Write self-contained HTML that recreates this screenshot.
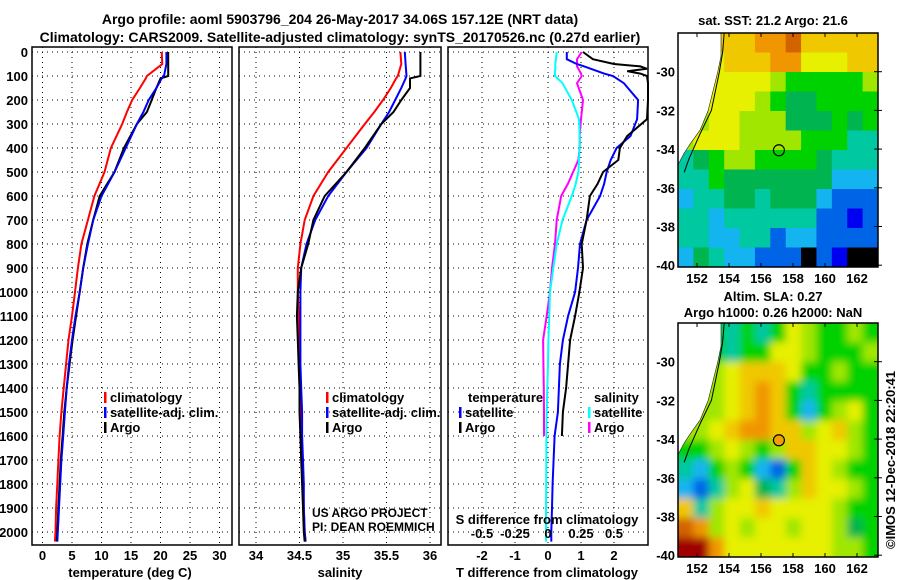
<!DOCTYPE html>
<html><head><meta charset="utf-8"><style>
html,body{margin:0;padding:0;background:#fff;}
#wrap{position:relative;width:900px;height:580px;}
svg{display:block;font-family:"Liberation Sans",sans-serif;}
#ov{position:absolute;left:0;top:0;}
.b{font-weight:bold;font-size:13px;}
</style></head><body>
<div id="wrap">
<svg id="c" width="900" height="580" viewBox="0 0 900 580">
<defs>
<filter id="blurA" x="-10%" y="-10%" width="120%" height="120%"><feGaussianBlur stdDeviation="4"/></filter>
<clipPath id="clipTop"><rect x="678" y="33" width="200" height="234"/></clipPath>
<clipPath id="clipBot"><rect x="678" y="323" width="200" height="234"/></clipPath>
</defs>
<text x="340" y="24" text-anchor="middle" class="b" style="font-size:14px">Argo profile: aoml 5903796_204 26-May-2017 34.06S 157.12E (NRT data)</text>
<text x="340" y="42" text-anchor="middle" class="b" style="font-size:14px">Climatology: CARS2009. Satellite-adjusted climatology: synTS_20170526.nc (0.27d earlier)</text>
</svg>
<svg id="ov" width="900" height="580" viewBox="0 0 900 580"></svg>
</div>
<script>
// ---- data ----
const depths=[0,50,100,110,150,200,250,300,400,500,600,700,800,900,1000,1100,1200,1300,1400,1500,1600,1700,1800,1900,2000,2040];
const tempArgo=[21.3,21.3,21.3,20,19.3,18.5,17.7,16,13.8,12.2,9.7,8.6,7.6,6.9,6.3,5.7,5.1,4.6,4.1,3.7,3.4,3.1,2.9,2.7,2.5,2.4];
const tempClim=[20.2,20.3,17.7,17.5,16.5,15.2,14.3,13.5,11.6,10.5,8.8,7.7,6.6,6.0,5.5,5.0,4.4,4.0,3.6,3.2,2.9,2.7,2.5,2.3,2.2,2.1];
const tempSat=[21.0,21.0,20.6,20.2,19.3,18,17.1,16,14.1,12.2,10,8.6,7.7,6.9,6.3,5.6,5.0,4.5,4.1,3.8,3.5,3.2,3.0,2.8,2.6,2.5];
const salArgo=[35.89,35.89,35.89,35.77,35.77,35.67,35.58,35.44,35.25,35.04,34.79,34.66,34.6,34.52,34.48,34.47,34.48,34.49,34.5,34.5,34.51,34.52,34.53,34.54,34.55,34.56];
const salClim=[35.66,35.67,35.63,35.61,35.55,35.46,35.36,35.25,35.04,34.83,34.66,34.56,34.51,34.48,34.48,34.49,34.5,34.5,34.51,34.52,34.52,34.53,34.54,34.55,34.56,34.57];
const salSat=[35.71,35.72,35.73,35.72,35.67,35.6,35.53,35.44,35.27,35.04,34.83,34.68,34.58,34.52,34.51,34.51,34.51,34.51,34.52,34.53,34.53,34.54,34.55,34.55,34.56,34.57];
const diffDepths=[0,30,50,60,70,80,90,100,130,200,280,350,400,450,500,550,600,700,800,900,1000,1100,1200,1300,1400,1500,1600,1700,1800,1900,2000,2040];
const dTsat=[0.57,0.57,0.87,1.1,1.3,1.5,1.7,1.97,2.3,2.73,2.7,2.5,2.08,1.9,1.78,1.7,1.58,1.17,0.97,0.91,0.82,0.61,0.45,0.36,0.33,0.3,0.2,0.17,0.14,0.12,0.1,0.1];
const dTargo=[1.06,1.36,2.0,2.8,3.0,2.4,2.8,3.0,3.2,3.4,3.0,2.4,2.18,2.13,1.67,1.5,1.27,1.17,1.02,1.06,0.95,0.82,0.67,0.61,0.55,0.45,0.42,null,null,null,null,null];
const dSsat=[0.066,0.06,0.055,0.055,0.055,0.053,0.053,0.053,0.11,0.18,0.235,0.24,0.24,0.235,0.23,0.21,0.18,0.11,0.066,0.04,0.015,0.01,0.003,0,-0.005,-0.01,-0.012,-0.013,-0.014,-0.015,-0.015,-0.015];
const dSargo=[0.255,0.22,0.22,0.22,0.23,0.24,0.25,0.255,0.22,0.265,0.25,0.24,0.24,0.23,0.19,0.15,0.1,0.066,0.053,0.03,0.015,-0.01,-0.037,-0.035,-0.032,-0.03,-0.03,null,null,null,null,null];
const depthTicks=[0,100,200,300,400,500,600,700,800,900,1000,1100,1200,1300,1400,1500,1600,1700,1800,1900,2000];
const tempTicks=[0,5,10,15,20,25,30];
const salTicks=[34,34.5,35,35.5,36];
const dTTicks=[-2,-1,0,1,2];
const dSTicks=[-0.5,-0.25,0,0.25,0.5];
const dSTickLabels=["-0.5","-0.25","0","0.25","0.5"];
const lonTicks=[152,154,156,158,160,162];
const latTicks=[-30,-32,-34,-36,-38,-40];
const argoLon=157.12, argoLat=-34.06;
// map grids: rows lat -28..-40 (1 deg), cols lon 151..163
const sstGrid=[
[0,0,9,9,9,10,10,11,9,9,9,9,9],
[0,0,8,9,9,9,10,10,8,8,8,9,9],
[0,7,8,8,8,8,7,6,6,6,6,6,7],
[0,7,8,8,8,7,6,5,5,6,6,6,6],
[0,7,8,8,7,7,7,5,5,5,6,5,6],
[7,8,8,8,7,7,7,7,6,6,6,4,4],
[4,5,6,7,7,6,6,6,6,5,4,4,4],
[4,4,6,5,5,5,5,5,5,5,3,3,3],
[3,4,4,5,5,4,5,5,5,3,2,2,2],
[4,4,3,4,4,4,4,4,4,2,2,1,2],
[4,4,3,3,4,4,2,3,3,2,2,2,2],
[3,5,4,3,3,2,2,2,13,2,1,13,13]];
const slaGrid=[
[0,0,6,4,6,4,6,8,7,6,6,7,6],
[0,7,6,4,6,6,8,8,7,6,6,6,7],
[0,7,7,8,9,9,9,8,6,6,7,6,6],
[0,7,7,8,9,10,9,6,4,6,6,6,6],
[7,7,7,8,9,10,9,6,3,6,7,8,6],
[7,7,8,9,10,10,9,9,7,8,9,7,6],
[6,6,7,8,7,6,7,9,9,8,8,7,6],
[4,3,6,7,6,3,2,6,9,8,7,6,6],
[3,2,4,7,8,5,4,7,9,8,8,7,6],
[9,4,7,8,8,9,8,8,8,8,7,6,6],
[11,10,7,8,7,8,8,7,8,8,7,5,6],
[12,12,10,8,8,8,8,8,8,8,7,7,6]];
const palette=["#ffffff","#0000f0","#0064e6","#14b4f0","#00c8a0","#00b450","#00d200","#a0e600","#e6f000","#f0c800","#f09600","#d26400","#a00000","#000000"];
const landLon=[150.8,153.5,153.5,153.3,153,152.7,152.2,151.6,151.2,150.8];
const landLat=[-28,-28,-29.2,-30,-31,-32,-33,-33.7,-34.2,-34.8];
const isoLon=[153.7,153.6,153.4,152.9,152.2,151.5,151.2];
const isoLat=[-28,-29,-30,-32,-33.2,-34.5,-35.2];

// ---- helpers ----
const NS="http://www.w3.org/2000/svg";
const svg=document.getElementById('c');
const ov=document.getElementById('ov');
function mk(tag,attrs,parent){const e=document.createElementNS(NS,tag);for(const k in attrs)e.setAttribute(k,attrs[k]);(parent||svg).appendChild(e);return e;}
const Y0=52, YS=0.24;
const yD=d=>Y0+YS*d;
const PB=545;
function panel(x0,x1,xf,xt,name){
  const g=mk('g',{});
  
  
  xt.forEach(v=>{const l=mk('line',{x1:xf(v),x2:xf(v),y1:Y0-5,y2:PB,stroke:'#000','stroke-width':1,'stroke-dasharray':'1 4'},g);});
  depthTicks.forEach(d=>{const l=mk('line',{x1:x0,x2:x1,y1:yD(d),y2:yD(d),stroke:'#000','stroke-width':1,'stroke-dasharray':'1 4'},g);});
  const r=mk('rect',{x:x0,y:Y0-5,width:x1-x0,height:PB-Y0+5,fill:'none',stroke:'#000','stroke-width':1.5},g);
  
  return g;
}
function line(xs,ds,xf,color,name,w,xmin,xmax){
  let pts=[];
  for(let i=0;i<xs.length;i++){if(xs[i]===null)continue;let x=xf(xs[i]);x=Math.max(xmin,Math.min(xmax,x));pts.push(x.toFixed(1)+','+yD(ds[i]).toFixed(1));}
  const p=mk('polyline',{points:pts.join(' '),fill:'none',stroke:color,'stroke-width':w||2});
  
  
}
function txt(x,y,s,anchor,cls,name,extra,parent){
  const t=mk('text',Object.assign({x:x,y:y,'text-anchor':anchor||'start',class:cls||'b'},extra||{}),parent);t.textContent=s;
  
  
  return t;
}
depthTicks.forEach(d=>txt(28,yD(d)+5,String(d),'end','b','y-tick-label'));

// ---- temperature ----
const xT=v=>42.5+5.9*v;
panel(32,232,xT,tempTicks,'temperature-panel');
line(tempClim,depths,xT,'#f00','temp-climatology-line',2,32,232);
line(tempSat,depths,xT,'#00f','temp-satellite-line',2,32,232);
line(tempArgo,depths,xT,'#000','temp-argo-line',2,32,232);
line(tempSat,depths,xT,'#00f','temp-satellite-line-top',1.5,32,232);
tempTicks.forEach(v=>txt(xT(v),560,String(v),'middle','b','temp-tick-label'));
txt(130,577,'temperature (deg C)','middle','b','x-axis-title-temperature');

// ---- salinity ----
const xS=v=>343+87*(v-35);
panel(239,441,xS,salTicks,'salinity-panel');
line(salClim,depths,xS,'#f00','sal-climatology-line',2,239,441);
line(salSat,depths,xS,'#00f','sal-satellite-line',2,239,441);
line(salArgo,depths,xS,'#000','sal-argo-line',2,239,441);
salTicks.forEach(v=>txt(xS(v),560,String(v),'middle','b','salinity-tick-label'));
txt(340,577,'salinity','middle','b','x-axis-title-salinity');
txt(312,517,'US ARGO PROJECT','start','','credit-project',{style:'font-size:12px'});
txt(312,531,'PI: DEAN ROEMMICH','start','','credit-pi',{style:'font-size:12px'});

// ---- difference ----
const xDT=v=>548+33*v;
const xDS=v=>548+132*v;
panel(448,648,xDT,dTTicks,'difference-panel');
line(dSargo,diffDepths,xDS,'#f0f','sdiff-argo-line',2,448,648);
line(dSsat,diffDepths,xDS,'#0ff','sdiff-satellite-line',2,448,648);
line(dTsat,diffDepths,xDT,'#00f','tdiff-satellite-line',2,448,648);
line(dTargo,diffDepths,xDT,'#000','tdiff-argo-line',2,448,648);
dTTicks.forEach(v=>txt(xDT(v),560,String(v),'middle','b','tdiff-tick-label'));
dSTicks.forEach((v,i)=>txt(xDS(v),538,dSTickLabels[i],'middle','b','sdiff-tick-label'));
txt(547,524,'S difference from climatology','middle','b','sdiff-axis-title');
txt(547,577,'T difference from climatology','middle','b','x-axis-title-tdiff');

function leg(x,y,color,label,name){
  const r=mk('rect',{x:x,y:y-10,width:2.5,height:11,fill:color});
  
  txt(x+6,y,label,'start','b',name);
}
leg(104,402,'#f00','climatology','legend-temp-climatology');
leg(104,417,'#00f','satellite-adj. clim.','legend-temp-satellite');
leg(104,432,'#000','Argo','legend-temp-argo');
leg(326,402,'#f00','climatology','legend-sal-climatology');
leg(326,417,'#00f','satellite-adj. clim.','legend-sal-satellite');
leg(326,432,'#000','Argo','legend-sal-argo');
txt(468,402,'temperature','start','b','legend-tdiff-title');
leg(459,417,'#00f','satellite','legend-tdiff-satellite');
leg(459,432,'#000','Argo','legend-tdiff-argo');
txt(594,402,'salinity','start','b','legend-sdiff-title');
leg(588,417,'#0ff','satellite','legend-sdiff-satellite');
leg(588,432,'#f0f','Argo','legend-sdiff-argo');

// ---- maps ----
const mx=lon=>Math.max(678,681+16*(lon-151));
function drawMap(top,grid,name,circleFill,clip,filt){
  const my=lat=>top+(-28-lat)*19.35;
  const g=mk('g',{'clip-path':'url(#'+clip+')'});
  
  
  const cells=filt?mk('g',{filter:'url(#'+filt+')'},g):mk('g',{},g);
  const nR=grid.length,nC=grid[0].length,cw=200/nC,ch=234/nR;
  grid.forEach((row,ri)=>row.forEach((c,ci)=>{
    let x=678+ci*cw,y=top+ri*ch,w=cw+0.6,h=ch+0.6;
    if(ci===0){x-=15;w+=15;} if(ci===nC-1){w+=15;}
    if(ri===0){y-=15;h+=15;} if(ri===nR-1){h+=15;}
    const r=mk('rect',{x:x,y:y,width:w,height:h,fill:palette[c]},cells);
    
  }));
  // land + isobath drawn on overlay svg
  const pts=landLon.map((l,i)=>mx(l).toFixed(1)+','+Math.max(top,my(landLat[i])).toFixed(1)).join(' ');
  const land=mk('polygon',{points:pts,style:'fill:#ffffff;stroke:#222;stroke-width:0.6'},ov);
  
  const iso=mk('polyline',{points:isoLon.map((l,i)=>mx(l).toFixed(1)+','+Math.max(top,my(isoLat[i])).toFixed(1)).join(' '),style:'fill:none;stroke:#000;stroke-width:1'},ov);
  
  const cr=mk('circle',{cx:mx(argoLon),cy:my(argoLat),r:5.5,fill:circleFill,stroke:'#000','stroke-width':1.2},ov);
  
  const fr=mk('rect',{x:678,y:top,width:200,height:234,fill:'none',stroke:'#000','stroke-width':1.5},ov);
  
  const bot=top+234;
  lonTicks.forEach(l=>{
    mk('line',{x1:mx(l),x2:mx(l),y1:top,y2:top+4,stroke:'#000'},ov);
    mk('line',{x1:mx(l),x2:mx(l),y1:bot-4,y2:bot,stroke:'#000'},ov);
    txt(mx(l),bot+16,String(l),'middle','b','lon-tick-label');
  });
  latTicks.forEach(l=>{
    mk('line',{x1:874,x2:882,y1:my(l),y2:my(l),stroke:'#000'},ov);
    txt(675,my(l)+5,String(l),'end','b','lat-tick-label');
  });
}
drawMap(33,sstGrid,'sst-map','none','clipTop',null);
drawMap(323,slaGrid,'sla-map','#f0a000','clipBot','blurA');
txt(773,25,'sat. SST: 21.2 Argo: 21.6','middle','b','sst-map-title');
txt(773,301,'Altim. SLA: 0.27','middle','b','sla-map-title');
txt(773,317,'Argo h1000: 0.26 h2000: NaN','middle','b','sla-map-subtitle');
txt(0,0,'©IMOS 12-Dec-2018 22:20:41','middle','','imos-credit',{transform:'translate(895,460) rotate(-90)',style:'font-size:13px'});
</script>
</body></html>
